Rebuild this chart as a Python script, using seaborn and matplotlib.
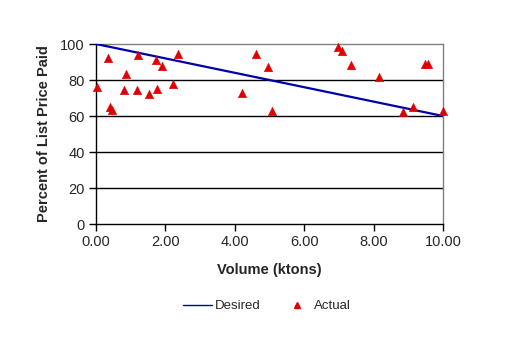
import matplotlib
matplotlib.use("Agg")
import matplotlib.pyplot as plt
import seaborn as sns
import pandas as pd
from matplotlib.lines import Line2D

desired_x = [0.0, 10.0]
desired_y = [100.0, 60.0]

actual_x = [0.04, 0.34, 0.40, 0.45, 0.80, 0.86, 1.17, 1.20, 1.52, 1.72, 1.75, 1.89,
            2.23, 2.35, 4.20, 4.60, 4.95, 5.08, 6.98, 7.10, 7.36, 8.15, 8.84, 9.13,
            9.47, 9.56, 10.0]
actual_y = [76, 92, 65, 63.5, 74.5, 83.5, 74.5, 94, 72, 91, 75, 88,
            78, 94.5, 73, 94.5, 87, 63, 98.5, 96, 88.5, 81.5, 62.5, 65,
            89, 89, 63]

x_ticks = [0, 2, 4, 6, 8, 10]
y_ticks = [0, 20, 40, 60, 80, 100]

sns.set_style("white")
plt.rcParams['font.family'] = ['Liberation Sans', 'DejaVu Sans']

fig = plt.figure(figsize=(5.31, 3.41), dpi=100)
ax = fig.add_axes([96/531, 1-224/341, (443-96)/531, (224-44)/341])

for yv in y_ticks[1:-1]:
    ax.axhline(yv, color='black', lw=1.0, zorder=1)

df_d = pd.DataFrame({"x": desired_x, "y": desired_y})
df_a = pd.DataFrame({"x": actual_x, "y": actual_y})
sns.lineplot(data=df_d, x="x", y="y", ax=ax, color="#0000a8", lw=1.6, zorder=3)
sns.scatterplot(data=df_a, x="x", y="y", ax=ax, marker="^", color="#e00000",
                s=38, edgecolor="#e00000", linewidth=0.3, zorder=4, clip_on=False)

ax.set_xlim(0, 10)
ax.set_ylim(0, 100)
ax.set_xticks(x_ticks)
ax.set_xticklabels([f"{v:.2f}" for v in x_ticks])
ax.set_yticks(y_ticks)
ax.set_yticklabels([str(v) for v in y_ticks])
ax.tick_params(axis='both', direction='out', length=5, width=1, color='black',
               labelsize=10.5, pad=3, bottom=True, left=True)

for s in ['left', 'bottom']:
    ax.spines[s].set_color('black')
    ax.spines[s].set_linewidth(1.0)
for s in ['top', 'right']:
    ax.spines[s].set_color('#808080')
    ax.spines[s].set_linewidth(1.0)

ax.set_xlabel("Volume (ktons)", fontsize=10.5, fontweight='bold', labelpad=10)
ax.set_ylabel("Percent of List Price Paid", fontsize=10.5, fontweight='bold', labelpad=7)

handles = [Line2D([], [], color="#0000a8", lw=1.0),
           Line2D([], [], color="#e00000", marker="^", linestyle='None', markersize=4.5)]
fig.legend(handles, ["Desired", "Actual"], loc='center', bbox_to_anchor=(267/531, 1-306/341),
           ncol=2, frameon=False, fontsize=9.5, handlelength=2.2, columnspacing=1.6,
           handletextpad=0.25)

fig.savefig("out.png", dpi=100)
